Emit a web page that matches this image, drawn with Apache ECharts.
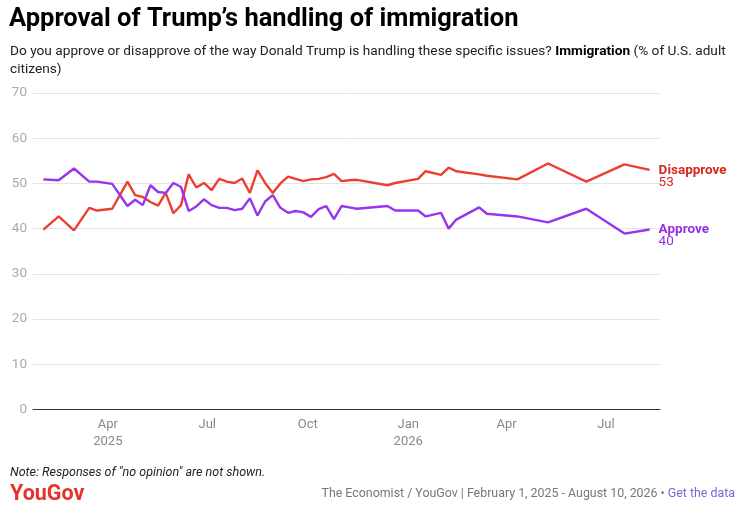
<!DOCTYPE html>
<html>
<head>
<meta charset="utf-8">
<script src="https://cdn.jsdelivr.net/npm/echarts@6.0.0/dist/echarts.min.js"></script>
<style>
  html, body { margin: 0; padding: 0; background: #fff; }
  #chart { width: 742px; height: 516px; }
</style>
</head>
<body>
<div id="chart"></div>
<script>
// poll dates (Economist / YouGov)
var pollDates = [
  '2025-02-01', '2025-02-15', '2025-03-01', '2025-03-15', '2025-03-22', '2025-04-05',
  '2025-04-19', '2025-04-26', '2025-05-03', '2025-05-10', '2025-05-17', '2025-05-24',
  '2025-05-31', '2025-06-07', '2025-06-14', '2025-06-21', '2025-06-28', '2025-07-05',
  '2025-07-12', '2025-07-19', '2025-07-26', '2025-08-02', '2025-08-09', '2025-08-16',
  '2025-08-23', '2025-08-30', '2025-09-06', '2025-09-13', '2025-09-20', '2025-09-27',
  '2025-10-04', '2025-10-11', '2025-10-18', '2025-10-25', '2025-11-01', '2025-11-08',
  '2025-11-15', '2025-12-13', '2025-12-20', '2026-01-10', '2026-01-17', '2026-01-31',
  '2026-02-07', '2026-02-14', '2026-03-07', '2026-03-14', '2026-04-11', '2026-05-09',
  '2026-06-13', '2026-07-18', '2026-08-10'
];

var approve = [
  50.9, 50.7, 53.3, 50.4, 50.4, 49.9,
  45.0, 46.4, 45.2, 49.6, 48.1, 47.9,
  50.1, 49.2, 43.9, 44.9, 46.5, 45.2,
  44.6, 44.6, 44.1, 44.4, 46.7, 42.9,
  46.0, 47.4, 44.6, 43.5, 43.9, 43.6,
  42.6, 44.3, 45.0, 42.1, 45.0, 44.7,
  44.4, 45.0, 44.0, 44.0, 42.7, 43.5,
  40.0, 42.0, 44.7, 43.3, 42.7, 41.4,
  44.4, 38.9, 39.8
];

var disapprove = [
  39.8, 42.7, 39.6, 44.6, 44.0, 44.4,
  50.4, 47.4, 47.0, 45.9, 45.1, 47.9,
  43.4, 45.2, 52.0, 49.1, 50.1, 48.5,
  51.0, 50.4, 50.1, 51.1, 47.9, 52.9,
  50.1, 47.9, 50.0, 51.5, 51.0, 50.5,
  50.9, 51.0, 51.4, 52.1, 50.5, 50.7,
  50.8, 49.6, 50.1, 51.0, 52.7, 51.9,
  53.5, 52.7, 52.0, 51.7, 50.9, 54.4,
  50.4, 54.2, 53.0
];

// x tick labels
var tickDates = ['2025-04-01', '2025-07-01', '2025-10-01', '2026-01-01', '2026-04-01', '2026-07-01'];
var tickLabels = ['Apr\n2025', 'Jul', 'Oct', 'Jan\n2026', 'Apr', 'Jul'];

var RED = '#ec3f30';
var RED_TXT = '#d9261f';
var PURPLE = '#9a33f0';
var PURPLE_TXT = '#962ee8';

var DAY = 24 * 3600 * 1000;

function ts(s) {
  var p = s.split('-');
  return Date.UTC(+p[0], +p[1] - 1, +p[2]);
}

var tickTs = tickDates.map(ts);

function pairs(vals) {
  return pollDates.map(function (d, i) { return [ts(d), vals[i]]; });
}

function endLabel(name, vals, txtColor) {
  var last = Math.round(vals[vals.length - 1]);
  return {
    show: true,
    distance: 9,
    offset: [0, 6.5],
    formatter: '{n|' + name + '}\n{v|' + last + '}',
    rich: {
      n: { fontFamily: 'Roboto', fontWeight: 'bold', fontSize: 13.5, color: txtColor, lineHeight: 12 },
      v: { fontFamily: 'Roboto', fontWeight: 'normal', fontSize: 13.5, color: txtColor, lineHeight: 12 }
    }
  };
}

var myChart = echarts.init(document.getElementById('chart'));

var option = {
  animation: false,
  textStyle: { fontFamily: 'Roboto' },
  title: [
    {
      text: 'Approval of Trump\u2019s handling of immigration',
      left: 9, top: 7, padding: 0,
      textStyle: { fontFamily: 'Roboto', fontWeight: 'bold', fontSize: 25.5, color: '#000' }
    },
    {
      text: '{n|Do you approve or disapprove of the way Donald Trump is handling these specific issues? }{b|Immigration}{n| (% of U.S. adult}\n{n|citizens)}',
      left: 10, top: 43, padding: 0,
      textStyle: {
        fontWeight: 'normal',
        rich: {
          n: { fontFamily: 'Roboto', fontWeight: 'normal', fontSize: 13.7, color: '#222', lineHeight: 18 },
          b: { fontFamily: 'Roboto', fontWeight: 'bold', fontSize: 13.7, color: '#000', lineHeight: 18 }
        }
      }
    },
    {
      text: 'Note: Responses of "no opinion" are not shown.',
      left: 10, top: 466, padding: 0,
      textStyle: { fontFamily: 'Roboto', fontStyle: 'italic', fontWeight: 'normal', fontSize: 12.5, color: '#222' }
    },
    {
      text: 'YouGov',
      left: 10, top: 484, padding: 0,
      textStyle: { fontFamily: 'Roboto', fontWeight: 'bold', fontSize: 21.5, color: '#e5322a' }
    },
    {
      text: '{g|The Economist / YouGov | February 1, 2025 - August 10, 2026 \u2022 }{l|Get the data}',
      right: 7, top: 488, padding: 0,
      textStyle: {
        fontWeight: 'normal',
        rich: {
          g: { fontFamily: 'Roboto', fontWeight: 'normal', fontSize: 12.4, color: '#777' },
          l: { fontFamily: 'Roboto', fontWeight: 'normal', fontSize: 12.4, color: '#7a68d8' }
        }
      }
    }
  ],
  grid: {
    left: 33, right: 82, top: 93, bottom: 106.5,
    containLabel: false,
    outerBoundsMode: 'none'
  },
  xAxis: {
    type: 'value',
    min: ts('2025-01-22') + DAY / 2,
    max: ts('2026-08-19') + DAY / 2,
    axisLine: { show: true, lineStyle: { color: '#333', width: 1.2 } },
    axisTick: { show: false },
    splitLine: { show: false },
    axisLabel: {
      customValues: tickTs,
      color: '#888',
      fontSize: 13,
      lineHeight: 17,
      margin: 7,
      formatter: function (v) {
        var i = tickTs.indexOf(v);
        return i >= 0 ? tickLabels[i] : '';
      }
    }
  },
  yAxis: {
    type: 'value',
    min: 0, max: 70, interval: 10,
    axisLine: { show: false },
    axisTick: { show: false },
    splitLine: { lineStyle: { color: '#e4e4e4', width: 1 } },
    axisLabel: { color: '#aaa', fontSize: 13.5, margin: 6 }
  },
  series: [
    {
      name: 'Disapprove',
      type: 'line',
      data: pairs(disapprove),
      showSymbol: false,
      symbol: 'none',
      lineStyle: { color: RED, width: 2.4 },
      itemStyle: { color: RED },
      endLabel: endLabel('Disapprove', disapprove, RED_TXT),
      z: 3
    },
    {
      name: 'Approve',
      type: 'line',
      data: pairs(approve),
      showSymbol: false,
      symbol: 'none',
      lineStyle: { color: PURPLE, width: 2.4 },
      itemStyle: { color: PURPLE },
      endLabel: endLabel('Approve', approve, PURPLE_TXT),
      z: 4
    }
  ]
};

myChart.setOption(option);
window.addEventListener('resize', function () {
  myChart.resize();
});
</script>
</body>
</html>
